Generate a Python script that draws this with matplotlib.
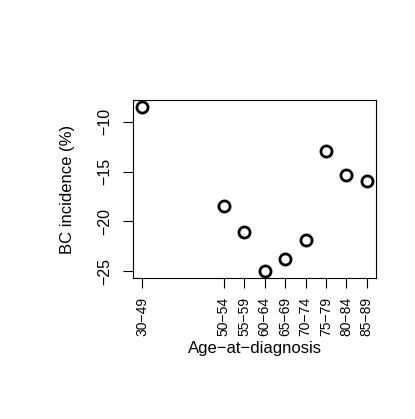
import matplotlib
matplotlib.use('Agg')
import matplotlib.pyplot as plt

plt.rcParams['font.family'] = ['Liberation Sans', 'DejaVu Sans']

# age groups and their positions on the x axis
age_groups = ['30\u221249', '50\u221254', '55\u221259', '60\u221264', '65\u221269',
              '70\u221274', '75\u221279', '80\u221284', '85\u221289']
x_pos = [1, 5, 6, 7, 8, 9, 10, 11, 12]
incidence = [-8.5, -18.5, -21.1, -25.0, -23.8, -21.9, -12.9, -15.3, -15.9]
y_ticks = [-10, -15, -20, -25]

fig = plt.figure(figsize=(4.15, 4.19), dpi=100)
ax = fig.add_axes([0.3212, 0.3365, 0.5841, 0.4248])

ax.plot(x_pos, incidence, linestyle='none', marker='o', markersize=8,
        markerfacecolor='none', markeredgecolor='black', markeredgewidth=2)

xr = max(x_pos) - min(x_pos)
yr = max(incidence) - min(incidence)
ax.set_xlim(min(x_pos) - 0.04 * xr, max(x_pos) + 0.04 * xr)
ax.set_ylim(min(incidence) - 0.04 * yr, max(incidence) + 0.04 * yr)

ax.set_xticks(x_pos)
ax.set_xticklabels(age_groups, rotation=90, fontsize=10)
ax.set_yticks(y_ticks)
ax.set_yticklabels(['\u2212' + str(abs(v)) for v in y_ticks], fontsize=11.5)
for lab in ax.get_yticklabels():
    lab.set_rotation(90)
    lab.set_va('center')

ax.tick_params(axis='both', direction='out', length=7.5, width=0.8, color='black')
ax.tick_params(axis='x', pad=6)
ax.tick_params(axis='y', pad=8)
for s in ax.spines.values():
    s.set_linewidth(0.8)

ax.set_xlabel('Age\u2212at\u2212diagnosis', fontsize=12, labelpad=4)
ax.set_ylabel('BC incidence (%)', fontsize=12, labelpad=16)

fig.savefig('out.png', dpi=100)
